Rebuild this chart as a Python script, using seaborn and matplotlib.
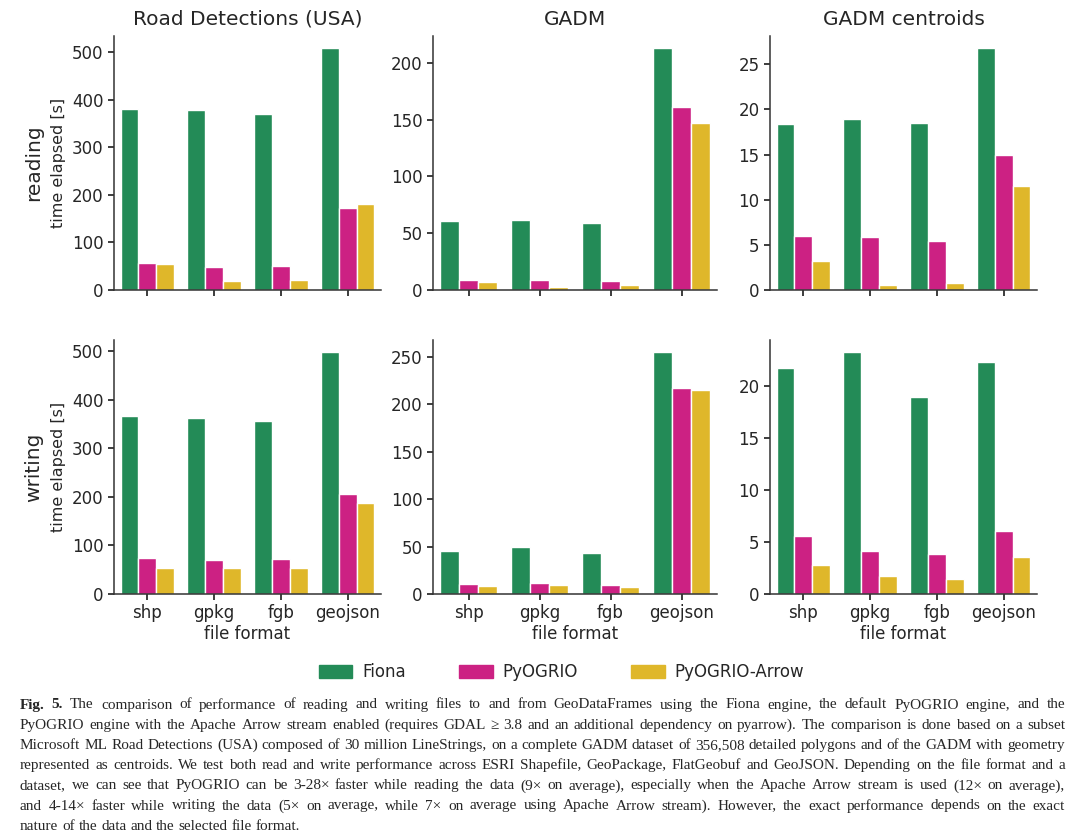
import pandas as pd
import matplotlib
matplotlib.use("Agg")
import matplotlib.pyplot as plt
from matplotlib.font_manager import FontProperties
import seaborn as sns

# --- Data ---
formats = ["shp", "gpkg", "fgb", "geojson"]
engines = ["Fiona", "PyOGRIO", "PyOGRIO-Arrow"]
datasets = ["Road Detections (USA)", "GADM", "GADM centroids"]
operations = ["reading", "writing"]

# reading
road_read_fiona = [380, 378, 370, 508]
road_read_pyogrio = [56, 48, 50, 173]
road_read_arrow = [55, 19, 21, 180]
gadm_read_fiona = [61, 62, 59, 213]
gadm_read_pyogrio = [9, 9, 8, 161]
gadm_read_arrow = [7, 3, 4, 147]
cent_read_fiona = [18.4, 19.0, 18.5, 26.8]
cent_read_pyogrio = [6.0, 5.9, 5.4, 15.0]
cent_read_arrow = [3.2, 0.6, 0.8, 11.5]

# writing
road_write_fiona = [366, 362, 356, 498]
road_write_pyogrio = [74, 71, 73, 206]
road_write_arrow = [54, 53, 54, 188]
gadm_write_fiona = [45, 50, 43, 255]
gadm_write_pyogrio = [11, 12, 9, 217]
gadm_write_arrow = [8, 10, 7, 215]
cent_write_fiona = [21.8, 23.3, 19.0, 22.3]
cent_write_pyogrio = [5.6, 4.1, 3.9, 6.1]
cent_write_arrow = [2.8, 1.7, 1.4, 3.6]

palette = {"Fiona": "#238b57", "PyOGRIO": "#cc2183", "PyOGRIO-Arrow": "#dfb72a"}

series = {
    ("reading", "Road Detections (USA)"): [road_read_fiona, road_read_pyogrio, road_read_arrow],
    ("reading", "GADM"): [gadm_read_fiona, gadm_read_pyogrio, gadm_read_arrow],
    ("reading", "GADM centroids"): [cent_read_fiona, cent_read_pyogrio, cent_read_arrow],
    ("writing", "Road Detections (USA)"): [road_write_fiona, road_write_pyogrio, road_write_arrow],
    ("writing", "GADM"): [gadm_write_fiona, gadm_write_pyogrio, gadm_write_arrow],
    ("writing", "GADM centroids"): [cent_write_fiona, cent_write_pyogrio, cent_write_arrow],
}

rows = []
for (op, ds), vals in series.items():
    for eng, v in zip(engines, vals):
        for fmt, t in zip(formats, v):
            rows.append({"operation": op, "dataset": ds, "engine": eng,
                         "format": fmt, "time": t})
df = pd.DataFrame(rows)

caption_lines = [
    "Fig. 5. The comparison of performance of reading and writing files to and from GeoDataFrames using the Fiona engine, the default PyOGRIO engine, and the",
    "PyOGRIO engine with the Apache Arrow stream enabled (requires GDAL \u2265 3.8 and an additional dependency on pyarrow). The comparison is done based on a subset",
    "Microsoft ML Road Detections (USA) composed of 30 million LineStrings, on a complete GADM dataset of 356,508 detailed polygons and of the GADM with geometry",
    "represented as centroids. We test both read and write performance across ESRI Shapefile, GeoPackage, FlatGeobuf and GeoJSON. Depending on the file format and a",
    "dataset, we can see that PyOGRIO can be 3-28\u00d7 faster while reading the data (9\u00d7 on average), especially when the Apache Arrow stream is used (12\u00d7 on average),",
    "and 4-14\u00d7 faster while writing the data (5\u00d7 on average, while 7\u00d7 on average using Apache Arrow stream). However, the exact performance depends on the exact",
    "nature of the data and the selected file format.",
]

# --- Figure ---
sns.set_theme(style="ticks")
plt.rcParams["font.family"] = ["DejaVu Sans"]
fig = plt.figure(figsize=(10.8, 8.4), dpi=100)

col_x = [114 / 1080, 433 / 1080, 770 / 1080]
col_w = [267 / 1080, 284 / 1080, 267 / 1080]
row_y = [1 - 290 / 840, 1 - 594 / 840]
row_h = 254 / 840

for r, op in enumerate(operations):
    for c, ds in enumerate(datasets):
        ax = fig.add_axes([col_x[c], row_y[r], col_w[c], row_h])
        sub = df[(df["operation"] == op) & (df["dataset"] == ds)]
        sns.barplot(data=sub, x="format", y="time", hue="engine",
                    order=formats, hue_order=engines, palette=palette,
                    saturation=1, width=0.8, edgecolor="white", linewidth=1,
                    legend=False, ax=ax)
        sns.despine(ax=ax)
        ax.tick_params(labelsize=12, length=4)
        for s in ["left", "bottom"]:
            ax.spines[s].set_color("#333333")
            ax.spines[s].set_linewidth(1.1)
        if r == 0:
            ax.set_title(ds, fontsize=14.5, pad=8)
            ax.set_xticklabels([])
            ax.set_xlabel("")
        else:
            ax.set_xlabel("file format", fontsize=12, labelpad=2)
        if c == 0:
            ax.set_ylabel("time elapsed [s]", fontsize=11.5)
            ax.text(-0.30, 0.5, op, rotation=90, fontsize=14.5,
                    ha="center", va="center", transform=ax.transAxes)
        else:
            ax.set_ylabel("")

# --- Legend ---
handles = [plt.Rectangle((0, 0), 1, 1, color=palette[e]) for e in engines]
fig.legend(handles, engines, loc="center", bbox_to_anchor=(0.52, 1 - 672 / 840),
           ncol=3, frameon=False, fontsize=12, handlelength=2.0,
           handleheight=0.8, handletextpad=0.6, columnspacing=3.2)

# --- Caption (justified between x=20 and x=1065 px) ---
cap_font = ["Liberation Serif", "DejaVu Serif"]
cap_size = 11.0
left_px, right_px = 20, 1065
y0 = 705
dy = 20.2
fig.canvas.draw()
renderer = fig.canvas.get_renderer()
for i, line in enumerate(caption_lines):
    words = line.split(" ")
    weights = ["normal"] * len(words)
    if i == 0:
        weights[0] = weights[1] = "bold"
    widths = []
    for w, wt in zip(words, weights):
        fp = FontProperties(family=cap_font, size=cap_size, weight=wt)
        widths.append(renderer.get_text_width_height_descent(w, fp, ismath=False)[0])
    if i < len(caption_lines) - 1:
        gap = (right_px - left_px - sum(widths)) / (len(words) - 1)
    else:
        fp = FontProperties(family=cap_font, size=cap_size)
        gap = renderer.get_text_width_height_descent("a a", fp, ismath=False)[0] \
            - 2 * renderer.get_text_width_height_descent("a", fp, ismath=False)[0]
    x = left_px
    y = 1 - (y0 + i * dy) / 840
    for w, wt, wd in zip(words, weights, widths):
        fig.text(x / 1080, y, w, fontsize=cap_size, family=cap_font,
                 fontweight=wt, va="center", ha="left")
        x += wd + gap

plt.savefig("out.png", dpi=100)
